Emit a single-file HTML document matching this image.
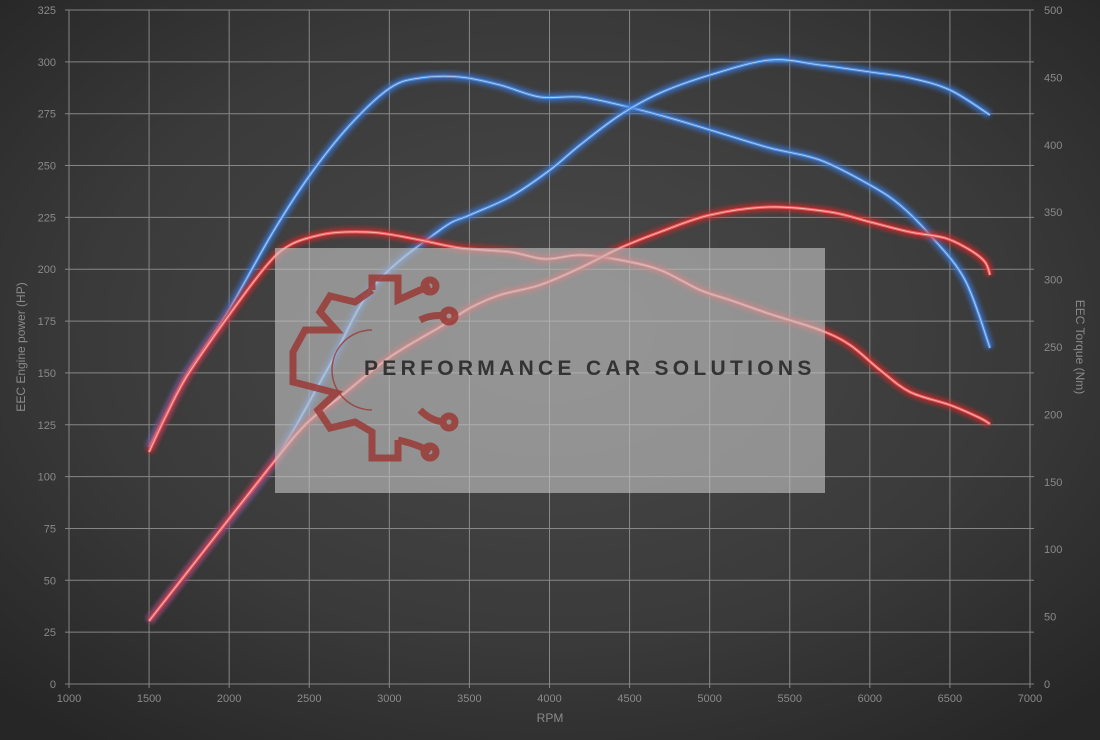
<!DOCTYPE html>
<html><head><meta charset="utf-8"><style>
html,body{margin:0;padding:0;width:1100px;height:740px;overflow:hidden;background:#333}
svg{display:block}
text{font-family:"Liberation Sans",sans-serif}
</style></head><body>
<svg id="s" width="1100" height="740" viewBox="0 0 1100 740" xmlns="http://www.w3.org/2000/svg">
<defs>
<radialGradient id="bg" cx="50%" cy="45%" r="70%">
<stop offset="0" stop-color="#4a4a4a"/><stop offset="0.6" stop-color="#3a3a3a"/><stop offset="1" stop-color="#262626"/>
</radialGradient>
<filter id="gl" x="-10%" y="-10%" width="120%" height="120%"><feGaussianBlur stdDeviation="2.5"/></filter>
</defs>
<rect width="1100" height="740" fill="url(#bg)"/>
<g id="grid" stroke="#9a9a9a" stroke-width="1" opacity="0.8"></g>
<g id="labels" fill="#8a8a8a" font-size="11"></g>
<g id="curves"></g>
<rect x="275" y="248" width="550" height="245" fill="#c4c4c4" opacity="0.62"/>
<g fill="none" stroke="#9a3a36" stroke-width="7" opacity="0.85">
<path d="M372,290 L372,278 L398,278 L398,300 L420,290 M398,300 Q420,290 430,286"/>
<path d="M372,290 L355,302 L330,296 L320,312 L336,330 L305,330 L293,352 L293,382 L305,385 L336,393 L318,410 L330,428 L355,422 L372,432 L372,458 L398,458 L398,440"/>
<path d="M398,440 Q420,445 430,452"/>
<path d="M420,320 Q432,314 446,316"/><path d="M420,410 Q432,422 446,422"/>
<circle cx="430" cy="286" r="6"/><circle cx="449" cy="316" r="6"/><circle cx="449" cy="422" r="6"/><circle cx="430" cy="452" r="6"/>
</g>
<path d="M372,330 A40,40 0 0 0 372,410" fill="none" stroke="#9a3a36" stroke-width="1.5" opacity="0.8"/>
<text x="364" y="375" font-size="21" font-weight="bold" fill="#333" letter-spacing="4.3">PERFORMANCE CAR SOLUTIONS</text>
<text x="550" y="722" font-size="12" fill="#8a8a8a" text-anchor="middle">RPM</text>
<text transform="translate(25,347) rotate(-90)" font-size="12" fill="#8a8a8a" text-anchor="middle">EEC Engine power (HP)</text>
<text transform="translate(1076,347) rotate(90)" font-size="12" fill="#8a8a8a" text-anchor="middle">EEC Torque (Nm)</text>
</svg>
<script>
var NS="http://www.w3.org/2000/svg";
function el(p,t,a,txt){var e=document.createElementNS(NS,t);for(var k in a)e.setAttribute(k,a[k]);if(txt!=null)e.textContent=txt;p.appendChild(e);return e;}
var g=document.getElementById('grid'),L=document.getElementById('labels');
var x0=69,x1=1030,y0=684,y1=10;
for(var i=0;i<=12;i++){var x=x0+(x1-x0)*i/12;el(g,'line',{x1:x,y1:y1,x2:x,y2:y0+4});el(L,'text',{x:x,y:702,'text-anchor':'middle'},String(1000+i*500));}
for(var i=0;i<=13;i++){var y=y0-(y0-y1)*i/13;el(g,'line',{x1:x0-4,y1:y,x2:x1+4,y2:y});el(L,'text',{x:56,y:y+4,'text-anchor':'end'},String(i*25));}
for(var i=0;i<=10;i++){var y=y0-(y0-y1)*i/10;el(L,'text',{x:1044,y:y+4},String(i*50));}
function sm(p){var d="M"+p[0][0]+","+p[0][1];for(var i=0;i<p.length-1;i++){var a=p[i-1]||p[i],b=p[i],c=p[i+1],e=p[i+2]||c;
d+=" C"+(b[0]+(c[0]-a[0])/6)+","+(b[1]+(c[1]-a[1])/6)+" "+(c[0]-(e[0]-b[0])/6)+","+(c[1]-(e[1]-b[1])/6)+" "+c[0]+","+c[1];}return d;}
var C=document.getElementById('curves');
var series=[
[[[149,447],[165,415],[187,373],[227,313],[273,232],[310,175],[350,125],[390,88],[420,78],[460,77],[500,85],[540,97],[580,97],[620,105],[670,118],[720,133],[770,148],[820,160],[870,185],[900,205],[930,235],[965,280],[990,348]],"#4f8fe0","#3a7ae0"],
[[[149,621],[207,547],[273,463],[327,370],[373,287],[440,230],[470,215],[510,197],[550,170],[580,145],[620,115],[660,93],[710,75],[770,60],[820,65],[870,72],[910,78],[950,90],[990,115]],"#4f8fe0","#3a7ae0"],
[[[149,452],[165,418],[187,376],[227,318],[267,265],[290,245],[320,235],[345,232],[380,233],[420,240],[460,248],[510,252],[545,259],[580,255],[620,260],[660,270],[700,290],[730,300],[770,314],[820,330],[850,345],[880,370],[910,392],[950,405],[980,418],[990,424]],"#f06060","#e02828"],
[[[149,621],[207,547],[273,463],[307,423],[340,397],[390,357],[440,327],[470,308],[500,295],[540,285],[580,268],[620,248],[660,232],[710,215],[770,207],[830,212],[870,222],[910,232],[945,238],[970,250],[985,262],[990,275]],"#f06060","#e02828"]];
series.forEach(function(s){var d=sm(s[0]);
el(C,'path',{d:d,fill:'none',stroke:s[2],'stroke-width':8,opacity:0.7,filter:'url(#gl)'});
el(C,'path',{d:d,fill:'none',stroke:s[1],'stroke-width':3});
el(C,'path',{d:d,fill:'none',stroke:'#ffffff','stroke-width':0.8,opacity:0.6});});
</script>
</body></html>
